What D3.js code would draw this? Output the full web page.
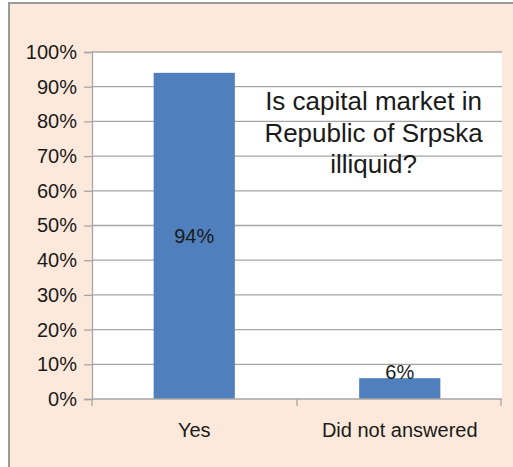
<!DOCTYPE html>
<html>
<head>
<meta charset="utf-8">
<script src="https://cdn.jsdelivr.net/npm/d3@7/dist/d3.min.js"></script>
<style>
  html, body { margin: 0; padding: 0; background: #ffffff; }
  svg { display: block; }
  text { font-family: "Liberation Sans", Arial, Helvetica, sans-serif; fill: #1a1a1a; }
</style>
</head>
<body>
<svg id="chart" width="513" height="467"></svg>
<script>
// Survey answers
const categories = ["Yes", "Did not answered"];
const shares = [0.94, 0.06];
const valueLabels = ["94%", "6%"];
const yTicks = [0, 0.1, 0.2, 0.3, 0.4, 0.5, 0.6, 0.7, 0.8, 0.9, 1.0];
const titleLines = ["Is capital market in", "Republic of Srpska", "illiquid?"];

const svg = d3.select("#chart");
const W = 513, H = 467;

// Outer frame with peach fill
svg.append("rect")
  .attr("x", 9).attr("y", 3)
  .attr("width", W + 10).attr("height", H + 10)
  .attr("fill", "#fde9db")
  .attr("stroke", "#9a9a9a")
  .attr("stroke-width", 2);

const plot = { left: 92, right: 502, top: 52, bottom: 399 };

const x = d3.scaleBand()
  .domain(categories)
  .range([plot.left, plot.right])
  .paddingInner(0.605)
  .paddingOuter(0.3);

const y = d3.scaleLinear()
  .domain([0, 1])
  .range([plot.bottom, plot.top]);

// Plot area background
svg.append("rect")
  .attr("x", plot.left).attr("y", plot.top)
  .attr("width", plot.right - plot.left)
  .attr("height", plot.bottom - plot.top)
  .attr("fill", "#ffffff");

// Horizontal gridlines
svg.append("g")
  .selectAll("line")
  .data(yTicks.filter(d => d > 0))
  .join("line")
  .attr("x1", plot.left).attr("x2", plot.right)
  .attr("y1", d => y(d)).attr("y2", d => y(d))
  .attr("stroke", "#a6a6a6")
  .attr("stroke-width", 1.3);

// Y axis
const yAxis = svg.append("g")
  .attr("transform", `translate(${plot.left},0)`)
  .call(d3.axisLeft(y)
    .tickValues(yTicks)
    .tickFormat(d3.format(".0%"))
    .tickSize(8)
    .tickPadding(7));
yAxis.select(".domain").attr("stroke", "#a6a6a6").attr("stroke-width", 1.3);
yAxis.selectAll(".tick line").attr("stroke", "#a6a6a6").attr("stroke-width", 1.3);
yAxis.selectAll(".tick text")
  .attr("font-size", 20)
  .style("font-family", "'Liberation Sans', Arial, sans-serif")
  .attr("fill", "#1a1a1a");

// Bars
svg.append("g")
  .selectAll("rect")
  .data(categories)
  .join("rect")
  .attr("x", d => x(d))
  .attr("y", (d, i) => y(shares[i]))
  .attr("width", x.bandwidth())
  .attr("height", (d, i) => y(0) - y(shares[i]))
  .attr("fill", "#4f7fbc");

// X axis with ticks between categories
const xAxisG = svg.append("g");
xAxisG.append("line")
  .attr("x1", plot.left).attr("x2", plot.right)
  .attr("y1", y(0)).attr("y2", y(0))
  .attr("stroke", "#a6a6a6").attr("stroke-width", 1.3);
const step = x.step();
const boundaries = [plot.left, plot.left + (plot.right - plot.left) / 2, plot.right - 1];
xAxisG.selectAll("line.tk")
  .data(boundaries)
  .join("line")
  .attr("class", "tk")
  .attr("x1", d => d).attr("x2", d => d)
  .attr("y1", y(0)).attr("y2", y(0) + 7)
  .attr("stroke", "#a6a6a6").attr("stroke-width", 1.3);
xAxisG.selectAll("text")
  .data(categories)
  .join("text")
  .attr("x", d => x(d) + x.bandwidth() / 2)
  .attr("y", 437)
  .attr("text-anchor", "middle")
  .attr("font-size", 20)
  .text(d => d);

// Value labels: large bar centred, small bar just above its top
svg.append("g")
  .selectAll("text")
  .data(categories)
  .join("text")
  .attr("x", d => x(d) + x.bandwidth() / 2)
  .attr("y", (d, i) => i === 0 ? (y(shares[i]) + y(0)) / 2 + 7 : y(shares[i]) + 1)
  .attr("text-anchor", "middle")
  .attr("font-size", 20)
  .text((d, i) => valueLabels[i]);

// Title block inside the plot
svg.append("g")
  .selectAll("text")
  .data(titleLines)
  .join("text")
  .attr("x", 373.5)
  .attr("y", (d, i) => 110 + i * 31.5)
  .attr("text-anchor", "middle")
  .attr("font-size", 26)
  .text(d => d);
</script>
</body>
</html>
